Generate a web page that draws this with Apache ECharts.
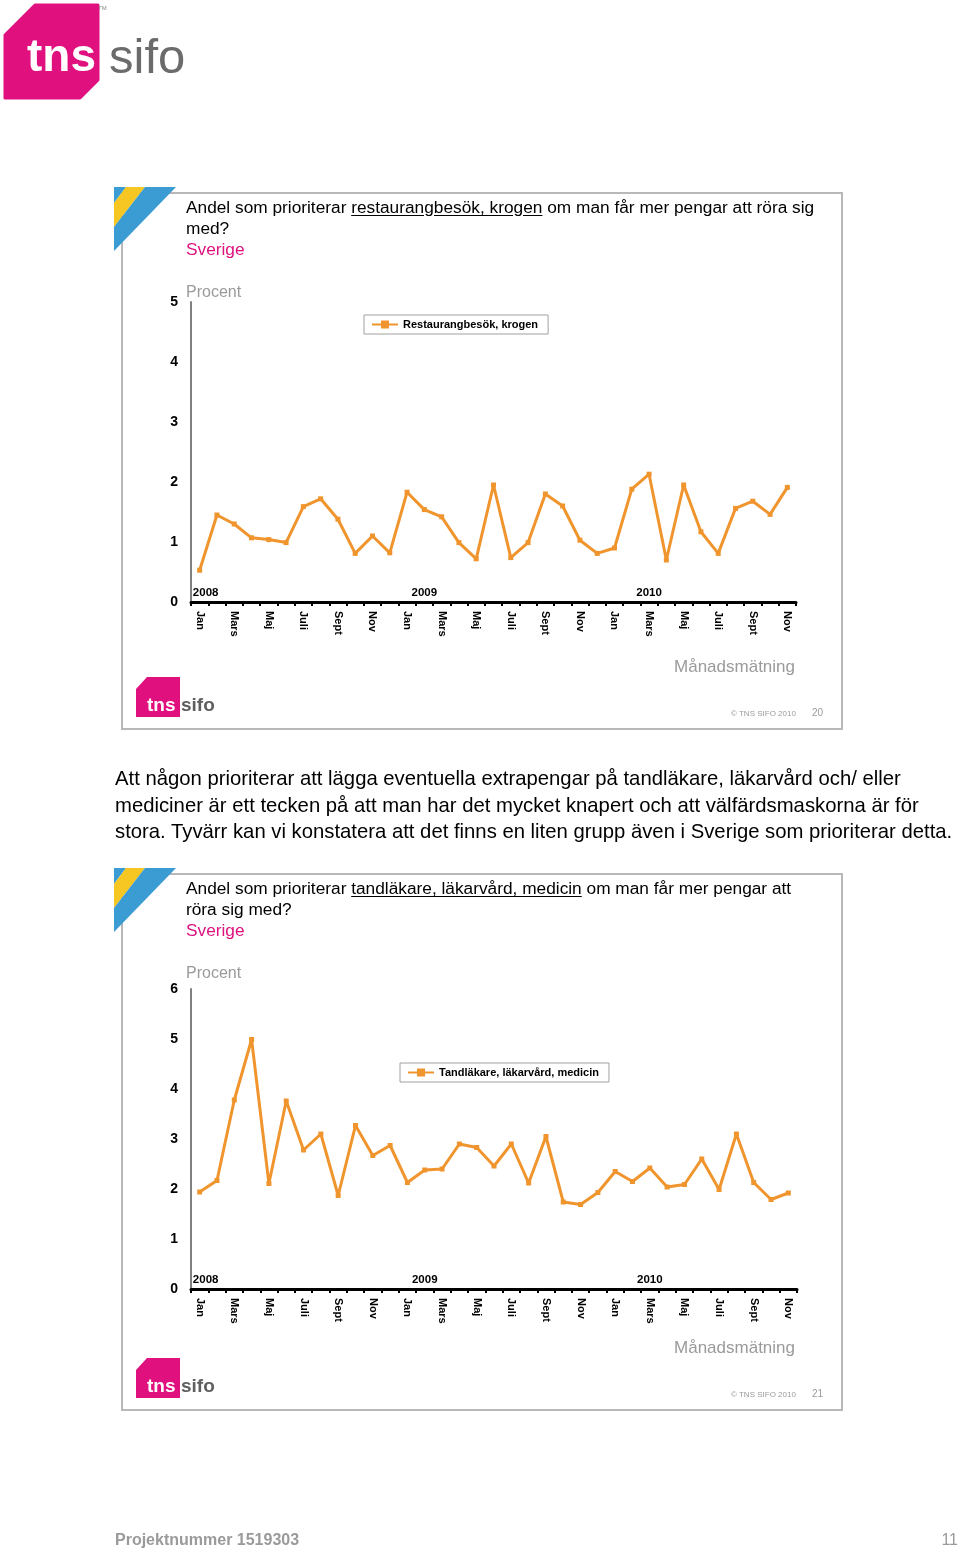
<!DOCTYPE html>
<html>
<head>
<meta charset="utf-8">
<script src="https://cdn.jsdelivr.net/npm/echarts/dist/echarts.min.js"></script>
<style>
  html, body { margin: 0; padding: 0; background: #ffffff; }
  #wrap { position: relative; width: 960px; height: 1553px; overflow: hidden; font-family: "Liberation Sans", Arial, sans-serif; }
  #chart { position: absolute; left: 0; top: 0; width: 960px; height: 1553px; }
  .t { position: absolute; white-space: nowrap; color: #000; }
  .t u { text-decoration: underline; text-underline-offset: 2px; }
  .pink { color: #DC127E; }
  .grey { color: #9a9a9a; }
</style>
</head>
<body>
<div id="wrap">
  <div id="chart"></div>

  <div class="t" style="left:186px;top:197px;font-size:17.3px;line-height:21px;">Andel som prioriterar <u>restaurangbesök, krogen</u> om man får mer pengar att röra sig<br>med?<br><span class="pink">Sverige</span></div>
  <div class="t grey" style="left:186px;top:282px;font-size:16px;line-height:20px;">Procent</div>
  <div class="t grey" style="right:165px;top:656px;font-size:17px;line-height:22px;">Månadsmätning</div>
  <div class="t grey" style="left:731px;top:709px;font-size:8px;line-height:10px;">© TNS SIFO 2010</div>
  <div class="t grey" style="left:812px;top:707px;font-size:10px;line-height:12px;">20</div>

  <div class="t" style="left:115px;top:765px;font-size:20.3px;line-height:26.5px;">Att någon prioriterar att lägga eventuella extrapengar på tandläkare, läkarvård och/ eller<br>mediciner är ett tecken på att man har det mycket knapert och att välfärdsmaskorna är för<br>stora. Tyvärr kan vi konstatera att det finns en liten grupp även i Sverige som prioriterar detta.</div>

  <div class="t" style="left:186px;top:878px;font-size:17.3px;line-height:21px;">Andel som prioriterar <u>tandläkare, läkarvård, medicin</u> om man får mer pengar att<br>röra sig med?<br><span class="pink">Sverige</span></div>
  <div class="t grey" style="left:186px;top:963px;font-size:16px;line-height:20px;">Procent</div>
  <div class="t grey" style="right:165px;top:1337px;font-size:17px;line-height:22px;">Månadsmätning</div>
  <div class="t grey" style="left:731px;top:1390px;font-size:8px;line-height:10px;">© TNS SIFO 2010</div>
  <div class="t grey" style="left:812px;top:1388px;font-size:10px;line-height:12px;">21</div>

  <div class="t grey" style="left:115px;top:1530px;font-size:16px;line-height:20px;font-weight:bold;">Projektnummer 1519303</div>
  <div class="t grey" style="right:2px;top:1530px;font-size:16px;line-height:20px;">11</div>
</div>

<script>
// ---------- data ----------
const monthNames = ['Jan', 'Feb', 'Mars', 'April', 'Maj', 'Juni', 'Juli', 'Aug', 'Sept', 'Okt', 'Nov', 'Dec'];
const years = ['2008', '2009', '2010'];
const monthCount = 35; // Jan 2008 – Nov 2010
const yearLabelIndex = { 0: '2008', 13: '2009', 26: '2010' };

const seriesName1 = 'Restaurangbesök, krogen';
const restaurangValues = [0.53, 1.45, 1.30, 1.07, 1.04, 0.99, 1.59, 1.72, 1.38, 0.81, 1.10, 0.82,
                          1.83, 1.54, 1.42, 0.99, 0.72, 1.95, 0.74, 0.99, 1.80, 1.60, 1.03, 0.81,
                          0.90, 1.88, 2.13, 0.70, 1.95, 1.17, 0.81, 1.56, 1.68, 1.46, 1.91];

const seriesName2 = 'Tandläkare, läkarvård, medicin';
const tandlakareValues = [1.94, 2.17, 3.78, 4.99, 2.11, 3.76, 2.78, 3.10, 1.87, 3.27, 2.67, 2.87,
                          2.13, 2.38, 2.40, 2.90, 2.83, 2.46, 2.90, 2.12, 3.05, 1.74, 1.69, 1.93,
                          2.35, 2.15, 2.42, 2.04, 2.09, 2.60, 1.99, 3.10, 2.13, 1.79, 1.92];

const yMax1 = 5;
const yMax2 = 6;

// categories built from month/year names
const categories = [];
for (let i = 0; i < monthCount; i++) {
  categories.push(monthNames[i % 12] + ' ' + years[Math.floor(i / 12)]);
}

// ---------- styles ----------
const ORANGE = '#F0952E';
const MAGENTA = '#E0107F';
const FONT = '"Liberation Sans", Arial, sans-serif';

const chart = echarts.init(document.getElementById('chart'), null, { renderer: 'canvas' });

function monthAxis(gridIndex) {
  return {
    type: 'category', gridIndex: gridIndex, position: 'bottom', data: categories,
    boundaryGap: true,
    axisLine: { show: true, lineStyle: { color: '#000', width: 3 } },
    axisTick: { show: true, interval: 0, length: 4, lineStyle: { color: '#000', width: 2 } },
    axisLabel: {
      show: true, interval: 1, rotate: -90, margin: 9,
      color: '#000', fontFamily: FONT, fontWeight: 'bold', fontSize: 11,
      formatter: v => v.split(' ')[0]
    },
    splitLine: { show: false }
  };
}
function yearAxis(gridIndex) {
  return {
    type: 'category', gridIndex: gridIndex, position: 'bottom', data: categories,
    boundaryGap: true,
    axisLine: { show: false }, axisTick: { show: false },
    axisLabel: {
      show: true, inside: true, interval: 0, margin: 3,
      color: '#000', fontFamily: FONT, fontWeight: 'bold', fontSize: 11.5,
      formatter: (v, i) => (i === 0 ? '{l|' + yearLabelIndex[i] + '}' : (yearLabelIndex[i] || '')),
      rich: { l: { padding: [0, 0, 0, 12], fontFamily: FONT, fontWeight: 'bold', fontSize: 11.5, color: '#000' } }
    },
    splitLine: { show: false }
  };
}
function valueAxis(gridIndex, max) {
  return {
    type: 'value', gridIndex: gridIndex, min: 0, max: max, interval: 1,
    axisLine: { show: true, lineStyle: { color: '#808080', width: 2 } },
    axisTick: { show: false },
    axisLabel: { show: true, margin: 13, color: '#000', fontFamily: FONT, fontWeight: 'bold', fontSize: 14 },
    splitLine: { show: false }
  };
}
function lineSeries(name, values, axisIndex) {
  return {
    type: 'line', name: name, data: values,
    xAxisIndex: axisIndex, yAxisIndex: axisIndex,
    color: ORANGE,
    lineStyle: { color: ORANGE, width: 3 },
    itemStyle: { color: ORANGE },
    symbol: 'rect', symbolSize: 5, showSymbol: true,
    silent: true, animation: false
  };
}
function legendBox(name, left, top) {
  return {
    data: [name], left: left, top: top, orient: 'horizontal',
    backgroundColor: '#fff', borderColor: '#a0a0a0', borderWidth: 1, borderRadius: 0,
    padding: [4, 10, 4, 7], itemWidth: 26, itemHeight: 10, itemGap: 5,
    textStyle: { color: '#000', fontFamily: FONT, fontWeight: 'bold', fontSize: 11 },
    selectedMode: false
  };
}

// decorative graphics: frames, stripes, logos
function frame(top) {
  return { type: 'rect', shape: { x: 122, y: top, width: 720, height: 536 },
           style: { fill: 'none', stroke: '#b8b8b8', lineWidth: 2 }, silent: true };
}
function stripes(top) {
  const y = top - 6;
  return [
    { type: 'polygon', shape: { points: [[114, y], [126, y], [114, y + 16]] }, style: { fill: '#3B9BD3' }, silent: true },
    { type: 'polygon', shape: { points: [[126, y], [145, y], [114, y + 40], [114, y + 16]] }, style: { fill: '#F6C623' }, silent: true },
    { type: 'polygon', shape: { points: [[145, y], [176, y], [114, y + 64], [114, y + 40]] }, style: { fill: '#3B9BD3' }, silent: true }
  ];
}
function smallLogo(top) {
  return [
    { type: 'polygon', shape: { points: [[136, top + 12], [147, top], [180, top], [180, top + 40], [136, top + 40]] },
      style: { fill: MAGENTA }, silent: true },
    { type: 'text', x: 147, y: top + 29, style: { text: 'tns', fill: '#fff', font: 'bold 19px ' + FONT, textVerticalAlign: 'middle' }, silent: true },
    { type: 'text', x: 181, y: top + 29, style: { text: 'sifo', fill: '#5f5f5f', stroke: '#fff', lineWidth: 1, font: 'bold 19px ' + FONT, textVerticalAlign: 'middle' }, silent: true }
  ];
}
const bigLogo = [
  { type: 'polygon', shape: { points: [[5, 35], [35, 5], [98, 5], [98, 80], [80, 98], [5, 98]] },
    style: { fill: MAGENTA, stroke: MAGENTA, lineWidth: 3, lineJoin: 'round' }, silent: true },
  { type: 'text', x: 27, y: 58, style: { text: 'tns', fill: '#fff', font: 'bold 46px ' + FONT, textVerticalAlign: 'middle' }, silent: true },
  { type: 'text', x: 109, y: 59, style: { text: 'sifo', fill: '#6b6b6b', font: '49px ' + FONT, textVerticalAlign: 'middle' }, silent: true },
  { type: 'text', x: 98, y: 8, style: { text: 'TM', fill: '#888', font: '6px ' + FONT, textVerticalAlign: 'middle' }, silent: true }
];

const option = {
  animation: false,
  backgroundColor: 'transparent',
  grid: [
    { left: 191, top: 302, width: 605, height: 300, containLabel: false, outerBoundsMode: 'none' },
    { left: 191, top: 989, width: 606, height: 300, containLabel: false, outerBoundsMode: 'none' }
  ],
  xAxis: [monthAxis(0), monthAxis(1), yearAxis(0), yearAxis(1)],
  yAxis: [valueAxis(0, yMax1), valueAxis(1, yMax2)],
  legend: [legendBox(seriesName1, 364, 315), legendBox(seriesName2, 400, 1063)],
  series: [
    lineSeries(seriesName1, restaurangValues, 0),
    lineSeries(seriesName2, tandlakareValues, 1)
  ],
  graphic: { elements: [
    frame(193), frame(874),
    ...stripes(193), ...stripes(874),
    ...smallLogo(677), ...smallLogo(1358),
    ...bigLogo
  ] }
};
chart.setOption(option);
</script>
</body>
</html>
